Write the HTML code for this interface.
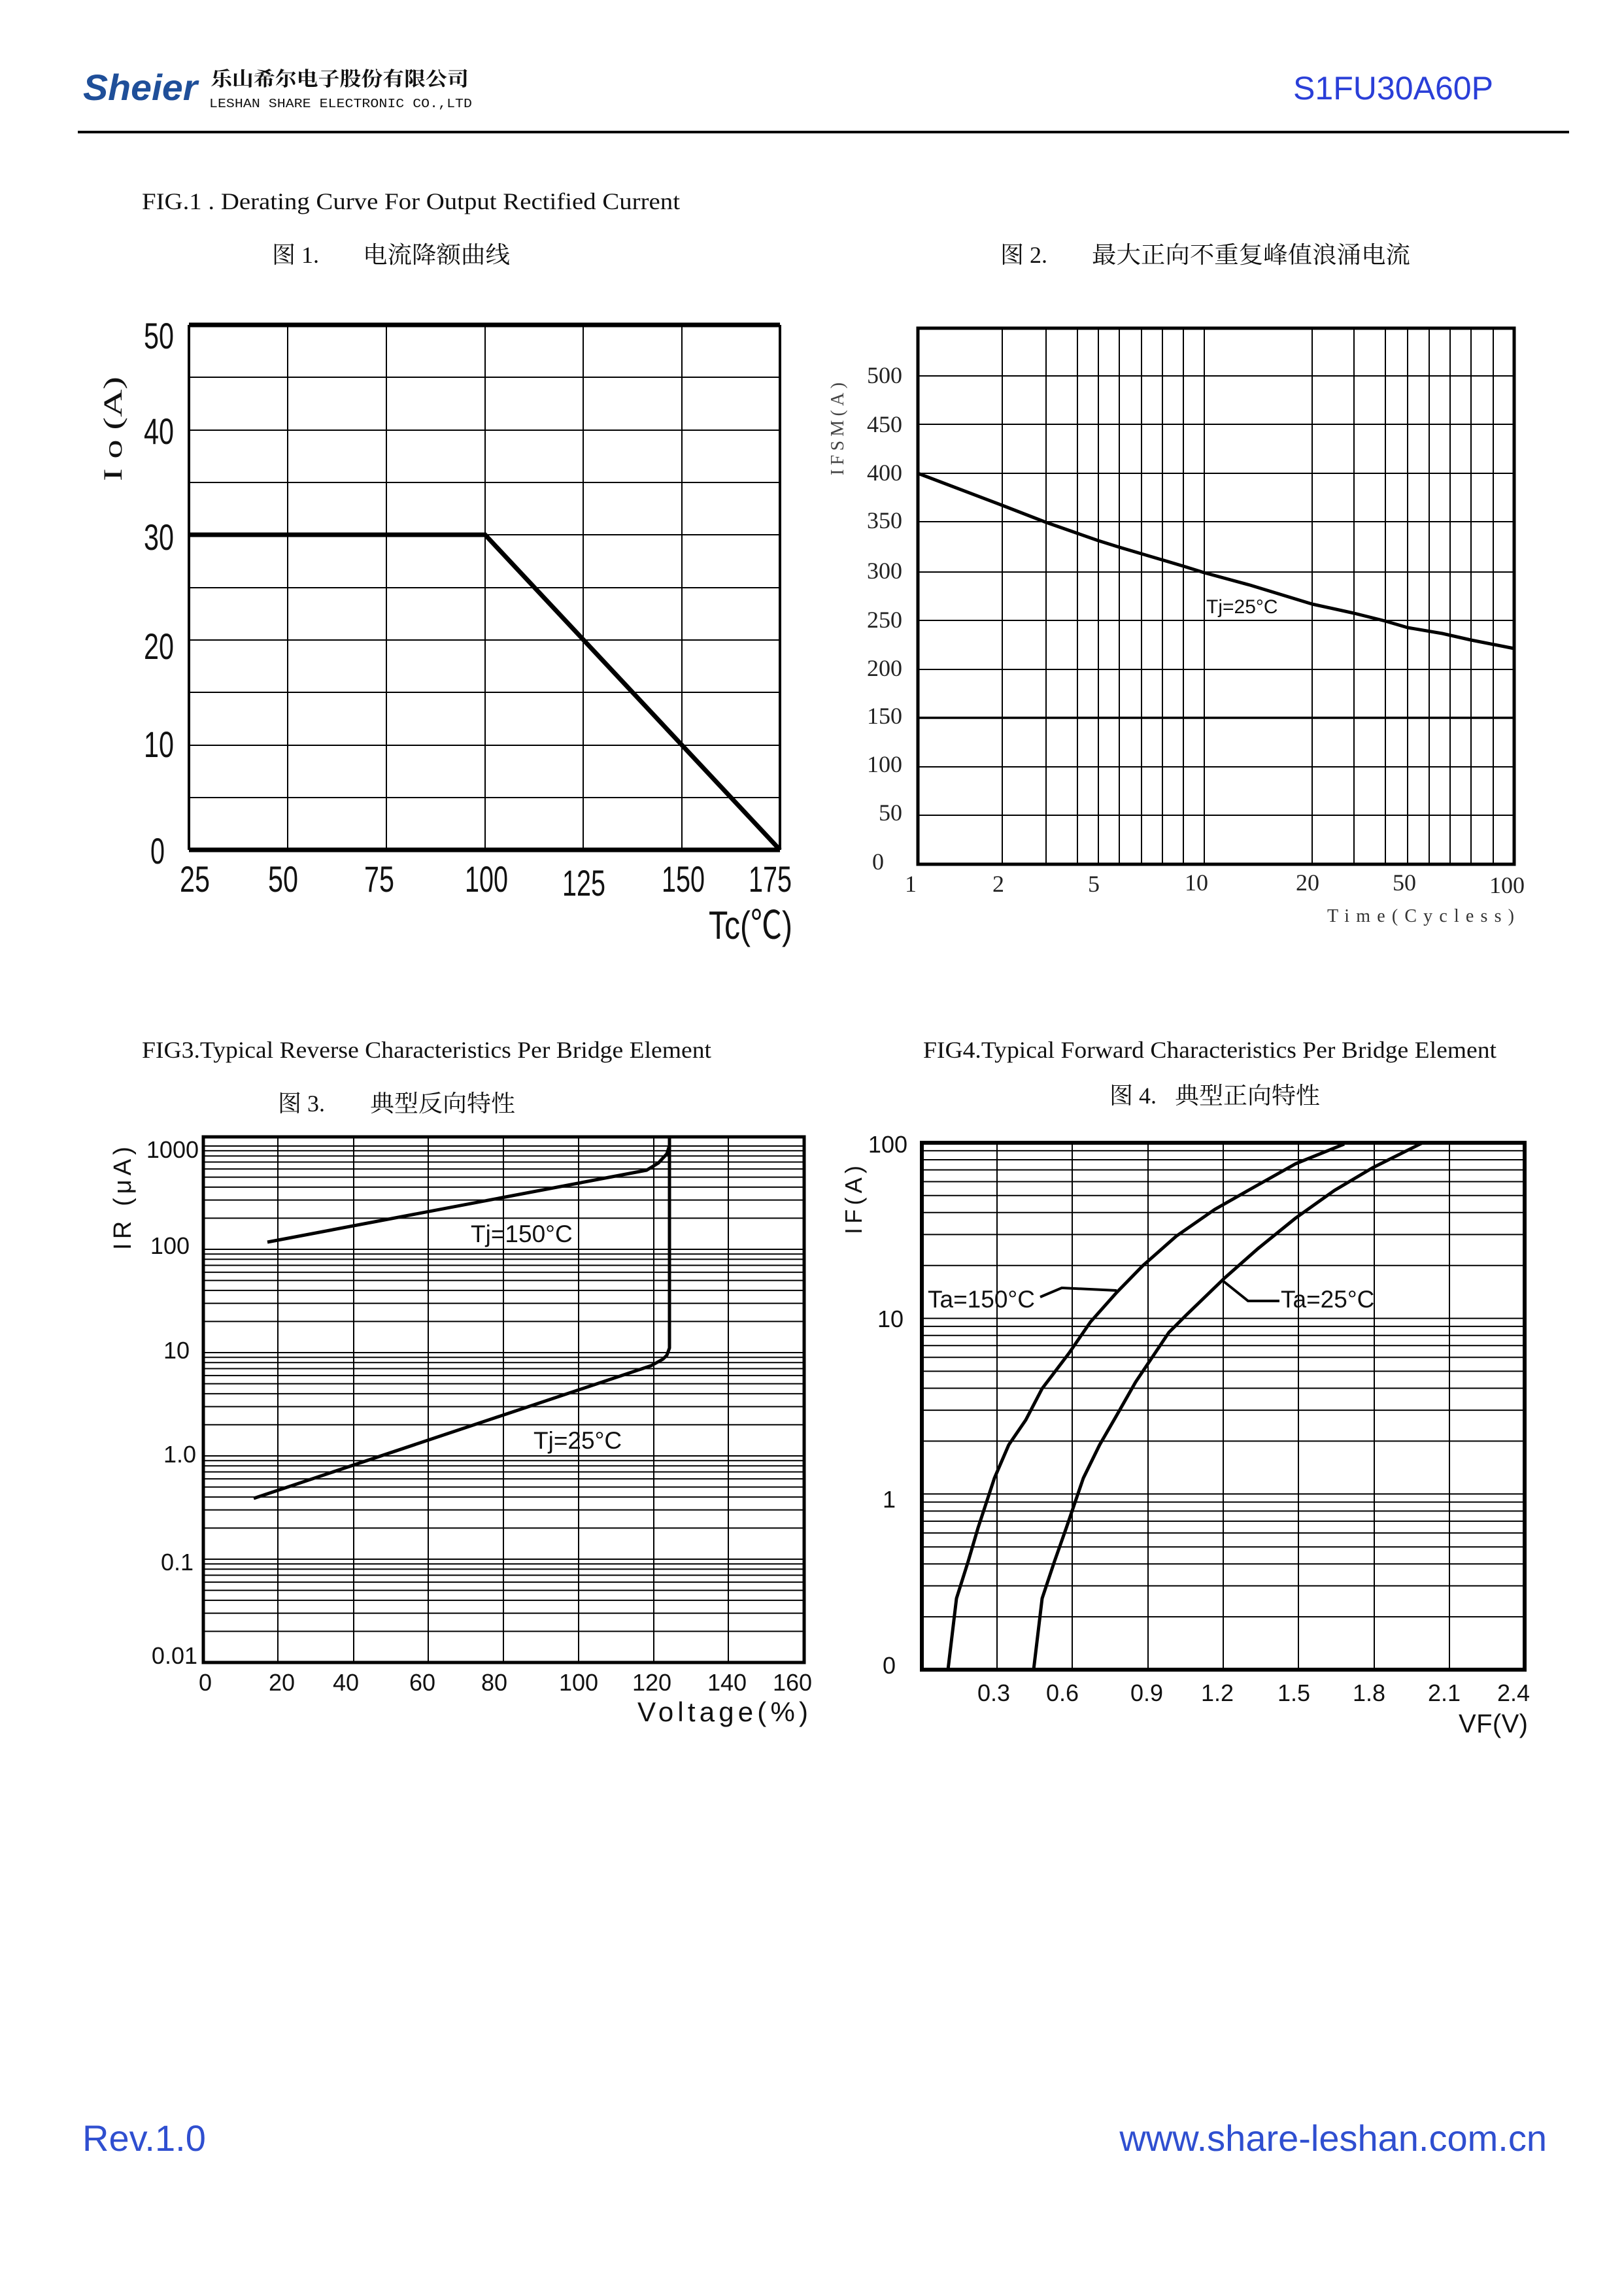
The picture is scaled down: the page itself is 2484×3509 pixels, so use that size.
<!DOCTYPE html>
<html><head><meta charset="utf-8"><style>
html,body{margin:0;padding:0;background:#fff;}
svg{display:block;}
.s{font-family:"Liberation Sans","Noto Sans CJK SC",sans-serif;}
.r{font-family:"Liberation Serif","Noto Serif CJK SC",serif;}
.c{font-family:"Liberation Serif","Noto Serif CJK SC","Noto Sans CJK SC",serif;}
</style></head><body>
<svg width="2484" height="3509" viewBox="0 0 2484 3509" xmlns="http://www.w3.org/2000/svg">
<rect width="2484" height="3509" fill="#fff"/>
<!-- header -->
<text x="127" y="153" class="s" font-size="56" font-weight="bold" font-style="italic" fill="#1f4f99" textLength="175" lengthAdjust="spacingAndGlyphs">Sheier</text>
<text x="322" y="131" class="c" font-size="30" font-weight="bold" fill="#111" textLength="395" lengthAdjust="spacingAndGlyphs">乐山希尔电子股份有限公司</text>
<text x="320" y="164" font-family="Liberation Mono,monospace" font-size="19" fill="#111" textLength="402" lengthAdjust="spacingAndGlyphs">LESHAN SHARE ELECTRONIC CO.,LTD</text>
<text x="1978" y="152" class="s" font-size="50" fill="#2a3fd8" textLength="306" lengthAdjust="spacingAndGlyphs">S1FU30A60P</text>
<rect x="119" y="200" width="2281" height="4" fill="#000"/>
<!-- titles -->
<text x="217" y="320" class="r" font-size="36" fill="#111" textLength="823" lengthAdjust="spacingAndGlyphs">FIG.1 .   Derating Curve For Output Rectified Current</text>
<text x="416" y="402" class="c" font-size="36" fill="#111">图 1.</text>
<text x="555" y="402" class="c" font-size="36" fill="#111" textLength="225" lengthAdjust="spacingAndGlyphs">电流降额曲线</text>
<text x="1530" y="402" class="c" font-size="36" fill="#111">图 2.</text>
<text x="1670" y="402" class="c" font-size="36" fill="#111" textLength="487" lengthAdjust="spacingAndGlyphs">最大正向不重复峰值浪涌电流</text>

<!-- CHART 1 -->
<g stroke="#000" stroke-width="2" fill="none">
<path d="M440 497V1300M591 497V1300M742 497V1300M892 497V1300M1043 497V1300"/>
<path d="M289 577H1193M289 658H1193M289 738H1193M289 818H1193M289 899H1193M289 979H1193M289 1059H1193M289 1140H1193M289 1220H1193"/>
</g>
<path d="M289 497H1193M289 1300H1193" stroke="#000" stroke-width="7"/>
<path d="M289 497V1300M1193 497V1300" stroke="#000" stroke-width="4"/>
<polyline points="289,818 742,818 1193,1300" fill="none" stroke="#000" stroke-width="7"/>
<g class="s" font-size="56" fill="#111" text-anchor="end">
<text x="266" y="533" textLength="46" lengthAdjust="spacingAndGlyphs">50</text>
<text x="266" y="679" textLength="46" lengthAdjust="spacingAndGlyphs">40</text>
<text x="266" y="841" textLength="46" lengthAdjust="spacingAndGlyphs">30</text>
<text x="266" y="1008" textLength="46" lengthAdjust="spacingAndGlyphs">20</text>
<text x="266" y="1158" textLength="46" lengthAdjust="spacingAndGlyphs">10</text>
<text x="252" y="1321" textLength="22" lengthAdjust="spacingAndGlyphs">0</text>
</g>
<g class="s" font-size="56" fill="#111" text-anchor="middle">
<text x="298" y="1364" textLength="46" lengthAdjust="spacingAndGlyphs">25</text>
<text x="433" y="1364" textLength="46" lengthAdjust="spacingAndGlyphs">50</text>
<text x="580" y="1364" textLength="46" lengthAdjust="spacingAndGlyphs">75</text>
<text x="744" y="1364" textLength="66" lengthAdjust="spacingAndGlyphs">100</text>
<text x="893" y="1370" textLength="66" lengthAdjust="spacingAndGlyphs">125</text>
<text x="1045" y="1364" textLength="66" lengthAdjust="spacingAndGlyphs">150</text>
<text x="1178" y="1364" textLength="66" lengthAdjust="spacingAndGlyphs">175</text>
<text x="1148" y="1436" font-size="60" textLength="128" lengthAdjust="spacingAndGlyphs">Tc(℃)</text>
</g>
<text transform="translate(186,736) rotate(-90)" class="r" font-size="40" fill="#111" textLength="160" lengthAdjust="spacingAndGlyphs">I o  (A)</text>

<!-- CHART 2 -->
<g stroke="#000" stroke-width="2" fill="none">
<path d="M1533 502V1322M1600 502V1322M1648 502V1322M1680 502V1322M1712 502V1322M1746 502V1322M1778 502V1322M1810 502V1322M1842 502V1322M2007 502V1322M2071 502V1322M2119 502V1322M2153 502V1322M2186 502V1322M2218 502V1322M2250 502V1322M2284 502V1322"/>
<path d="M1404 575H2316M1404 649H2316M1404 724H2316M1404 798H2316M1404 875H2316M1404 949H2316M1404 1024H2316M1404 1173H2316M1404 1247H2316"/>
<path d="M1404 1098H2316" stroke-width="3.5"/>
</g>
<rect x="1404" y="502" width="912" height="820" fill="none" stroke="#000" stroke-width="5"/>
<polyline points="1404,724 1533,773 1600,799 1680,827 1712,837 1810,866 1842,876 1912,895 2007,924 2071,938 2119,950 2153,960 2206,969 2250,979 2316,992" fill="none" stroke="#000" stroke-width="5" stroke-linejoin="round"/>
<text x="1845" y="938" class="s" font-size="30" fill="#111">Tj=25°C</text>
<g class="r" font-size="36" fill="#222" text-anchor="end">
<text x="1380" y="586">500</text><text x="1380" y="661">450</text><text x="1380" y="735">400</text>
<text x="1380" y="808">350</text><text x="1380" y="885">300</text><text x="1380" y="960">250</text>
<text x="1380" y="1034">200</text><text x="1380" y="1107">150</text><text x="1380" y="1181">100</text>
<text x="1380" y="1255">50</text><text x="1352" y="1330">0</text>
</g>
<g class="r" font-size="36" fill="#222" text-anchor="middle">
<text x="1393" y="1364">1</text><text x="1527" y="1364">2</text><text x="1673" y="1364">5</text>
<text x="1830" y="1362">10</text><text x="2000" y="1362">20</text><text x="2148" y="1362">50</text><text x="2305" y="1366">100</text>
</g>
<text x="2030" y="1410" class="r" font-size="28" fill="#333" textLength="286" lengthAdjust="spacing">Time(Cycless)</text>
<text transform="translate(1290,727) rotate(-90)" class="r" font-size="28" fill="#444" textLength="142" lengthAdjust="spacing">IFSM(A)</text>

<!-- FIG 3/4 titles -->
<text x="217" y="1618" class="r" font-size="36" fill="#111" textLength="871" lengthAdjust="spacingAndGlyphs">FIG3.Typical Reverse Characteristics Per Bridge Element</text>
<text x="1412" y="1618" class="r" font-size="36" fill="#111" textLength="877" lengthAdjust="spacingAndGlyphs">FIG4.Typical Forward Characteristics Per Bridge Element</text>
<text x="425" y="1700" class="c" font-size="36" fill="#111">图 3.</text>
<text x="566" y="1700" class="c" font-size="36" fill="#111" textLength="222" lengthAdjust="spacingAndGlyphs">典型反向特性</text>
<text x="1697" y="1688" class="c" font-size="36" fill="#111">图 4.</text>
<text x="1797" y="1688" class="c" font-size="36" fill="#111" textLength="222" lengthAdjust="spacingAndGlyphs">典型正向特性</text>

<!-- CHART 3 -->
<g stroke="#000" stroke-width="2" fill="none">
<path d="M425 1739V2543M541 1739V2543M655 1739V2543M770 1739V2543M885 1739V2543M1000 1739V2543M1114 1739V2543"/>
<path d="M311 2495.4H1230M311 2467.6H1230M311 2447.9H1230M311 2432.6H1230M311 2420.1H1230M311 2409.5H1230M311 2400.3H1230M311 2392.2H1230M311 2385H1230
M311 2337.4H1230M311 2309.6H1230M311 2289.9H1230M311 2274.6H1230M311 2262.1H1230M311 2251.5H1230M311 2242.3H1230M311 2234.2H1230M311 2227H1230
M311 2179.4H1230M311 2151.6H1230M311 2131.9H1230M311 2116.6H1230M311 2104.1H1230M311 2093.5H1230M311 2084.3H1230M311 2076.2H1230M311 2069H1230
M311 2021.4H1230M311 1993.6H1230M311 1973.9H1230M311 1958.6H1230M311 1946.1H1230M311 1935.5H1230M311 1926.3H1230M311 1918.2H1230M311 1911H1230
M311 1863.4H1230M311 1835.6H1230M311 1815.9H1230M311 1800.6H1230M311 1788.1H1230M311 1777.5H1230M311 1768.3H1230M311 1760.2H1230M311 1753H1230"/>
</g>
<rect x="311" y="1739" width="919" height="804" fill="none" stroke="#000" stroke-width="5"/>
<polyline points="409,1900 989,1790 1007,1779 1020,1765 1024,1752 1024,1739" fill="none" stroke="#000" stroke-width="5" stroke-linejoin="round"/>
<polyline points="1024,1739 1024,2062 1020,2073 1014,2079 996,2089 388,2292" fill="none" stroke="#000" stroke-width="5" stroke-linejoin="round"/>
<text x="720" y="1900" class="s" font-size="37" fill="#111">Tj=150°C</text>
<text x="816" y="2216" class="s" font-size="37" fill="#111">Tj=25°C</text>
<g class="s" font-size="36" fill="#111" text-anchor="end">
<text x="304" y="1771">1000</text><text x="290" y="1918">100</text><text x="290" y="2078">10</text>
<text x="300" y="2237">1.0</text><text x="296" y="2402">0.1</text><text x="302" y="2545">0.01</text>
</g>
<g class="s" font-size="36" fill="#111" text-anchor="middle">
<text x="314" y="2586">0</text><text x="431" y="2586">20</text><text x="529" y="2586">40</text>
<text x="646" y="2586">60</text><text x="756" y="2586">80</text><text x="885" y="2586">100</text>
<text x="997" y="2586">120</text><text x="1112" y="2586">140</text><text x="1212" y="2586">160</text>
</g>
<text x="975" y="2633" class="s" font-size="42" fill="#111" textLength="261" lengthAdjust="spacing">Voltage(%)</text>
<text transform="translate(200,1912) rotate(-90)" class="s" font-size="38" fill="#111" textLength="158" lengthAdjust="spacing">IR (μA)</text>

<!-- CHART 4 -->
<g stroke="#000" stroke-width="2" fill="none">
<path d="M1525 1748V2554M1640 1748V2554M1756 1748V2554M1871 1748V2554M1986 1748V2554M2102 1748V2554M2217 1748V2554"/>
<path d="M1410 2473.1H2332M1410 2425.8H2332M1410 2392.2H2332M1410 2366.2H2332M1410 2344.9H2332M1410 2326.9H2332M1410 2311.4H2332M1410 2297.6H2332M1410 2285.3H2332
M1410 2204.4H2332M1410 2157.1H2332M1410 2123.5H2332M1410 2097.5H2332M1410 2076.2H2332M1410 2058.2H2332M1410 2042.7H2332M1410 2028.9H2332M1410 2016.6H2332
M1410 1935.7H2332M1410 1888.4H2332M1410 1854.8H2332M1410 1828.8H2332M1410 1807.5H2332M1410 1789.5H2332M1410 1774H2332M1410 1760.2H2332"/>
</g>
<rect x="1410" y="1748" width="922" height="806" fill="none" stroke="#000" stroke-width="6"/>
<polyline points="1450,2554 1463,2445 1481,2388 1496,2337 1521,2261 1543,2210 1569,2172 1594,2124 1635,2070 1668,2022 1708,1977 1748,1936 1799,1891 1858,1850 1909,1821 1982,1780 2056,1750" fill="none" stroke="#000" stroke-width="5" stroke-linejoin="round"/>
<polyline points="1581,2554 1594,2445 1613,2388 1631,2337 1657,2261 1682,2210 1708,2165 1737,2114 1788,2038 1814,2012 1873,1955 1924,1910 1982,1863 2041,1821 2100,1786 2176,1748" fill="none" stroke="#000" stroke-width="5" stroke-linejoin="round"/>
<polyline points="1591,1984 1624,1970 1708,1974" fill="none" stroke="#000" stroke-width="4"/>
<polyline points="1869,1958 1909,1990 1957,1990" fill="none" stroke="#000" stroke-width="4"/>
<text x="1419" y="2000" class="s" font-size="37" fill="#111">Ta=150°C</text>
<text x="1959" y="2000" class="s" font-size="37" fill="#111">Ta=25°C</text>
<g class="s" font-size="36" fill="#111" text-anchor="end">
<text x="1388" y="1763">100</text><text x="1382" y="2030">10</text><text x="1370" y="2306">1</text><text x="1370" y="2560">0</text>
</g>
<g class="s" font-size="36" fill="#111" text-anchor="middle">
<text x="1520" y="2602">0.3</text><text x="1625" y="2602">0.6</text><text x="1754" y="2602">0.9</text>
<text x="1862" y="2602">1.2</text><text x="1979" y="2602">1.5</text><text x="2094" y="2602">1.8</text>
<text x="2209" y="2602">2.1</text><text x="2315" y="2602">2.4</text>
</g>
<text x="2231" y="2650" class="s" font-size="40" fill="#111" textLength="106" lengthAdjust="spacing">VF(V)</text>
<text transform="translate(1318,1888) rotate(-90)" class="s" font-size="36" fill="#111" textLength="105" lengthAdjust="spacing">IF(A)</text>

<!-- footer -->
<text x="126" y="3290" class="s" font-size="56" fill="#2f4fd0">Rev.1.0</text>
<text x="2366" y="3290" class="s" font-size="56" fill="#2f4fd0" text-anchor="end">www.share-leshan.com.cn</text>
</svg>
</body></html>
